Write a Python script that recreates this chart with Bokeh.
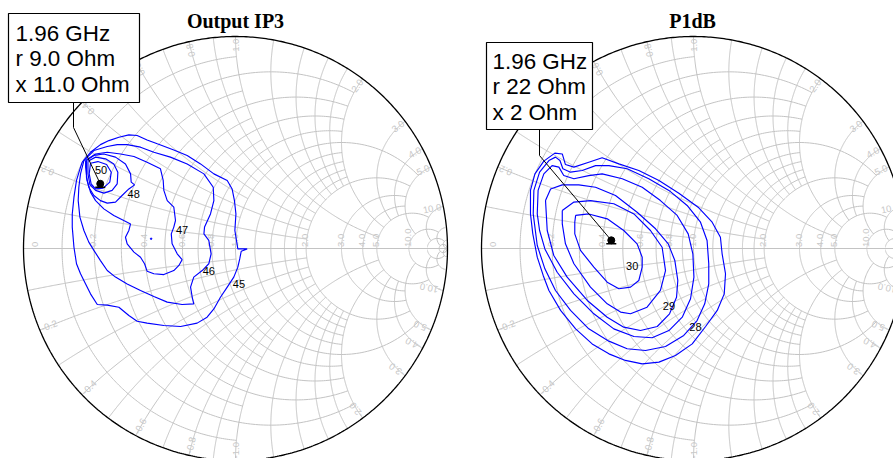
import numpy as np
from bokeh.plotting import figure
from bokeh.layouts import row
from bokeh.models import Range1d
from bokeh.embed import file_html
from bokeh.resources import INLINE
from bokeh.core.properties import value

# ---------------- data ----------------
Z0 = 50.0
FREQ_TEXT = "1.96 GHz"

# optimum impedances (Ohm)
ip3_opt_r, ip3_opt_x = 9.0, 11.0
p1db_opt_r, p1db_opt_x = 22.0, 2.0
ip3_box_text = [FREQ_TEXT, "r 9.0 Ohm", "x 11.0 Ohm"]
p1db_box_text = [FREQ_TEXT, "r 22 Ohm", "x 2 Ohm"]

# Output IP3 contours, reflection coefficient (real, imag)
ip3_c45 = [(-0.723,0.407),(-0.684,0.454),(-0.637,0.490),(-0.597,0.509),(-0.550,0.525),(-0.503,0.536),
           (-0.464,0.533),(-0.417,0.512),(-0.369,0.494),(-0.291,0.465),(-0.228,0.439),(-0.165,0.399),
           (-0.102,0.352),(-0.039,0.321),(-0.016,0.281),(-0.005,0.226),(0.002,0.163),(-0.003,0.085),
           (0.011,-0.002),(0.055,-0.002),(0.027,-0.013),(0.020,-0.049),(0.011,-0.088),(-0.008,-0.135),
           (-0.039,-0.182),(-0.071,-0.230),(-0.102,-0.285),(-0.134,-0.324),(-0.181,-0.352),(-0.259,-0.368),
           (-0.338,-0.363),(-0.417,-0.352),(-0.464,-0.343),(-0.503,-0.316),(-0.550,-0.277),(-0.605,-0.267),
           (-0.652,-0.264),(-0.684,-0.214),(-0.707,-0.167),(-0.731,-0.119),(-0.750,-0.072),(-0.762,0.006),
           (-0.770,0.101),(-0.770,0.163),(-0.762,0.242),(-0.750,0.321),(-0.731,0.384),(-0.723,0.407)]
ip3_c46 = [(-0.715,0.415),(-0.668,0.462),(-0.605,0.481),(-0.558,0.490),(-0.511,0.490),(-0.448,0.478),
           (-0.385,0.454),(-0.307,0.431),(-0.228,0.399),(-0.149,0.352),(-0.105,0.289),(-0.102,0.226),
           (-0.118,0.163),(-0.146,0.101),(-0.149,0.069),(-0.126,0.038),(-0.115,-0.025),(-0.126,-0.072),
           (-0.157,-0.104),(-0.197,-0.135),(-0.212,-0.182),(-0.204,-0.230),(-0.197,-0.261),(-0.252,-0.264),
           (-0.322,-0.253),(-0.385,-0.226),(-0.448,-0.198),(-0.511,-0.167),(-0.566,-0.135),(-0.605,-0.104),
           (-0.637,-0.057),(-0.668,-0.009),(-0.692,0.030),(-0.715,0.085),(-0.734,0.148),(-0.742,0.226),
           (-0.739,0.289),(-0.731,0.352),(-0.715,0.415)]
ip3_c47 = [(-0.707,0.415),(-0.660,0.446),(-0.605,0.454),(-0.542,0.446),(-0.479,0.434),(-0.417,0.407),
           (-0.354,0.376),(-0.341,0.321),(-0.338,0.274),(-0.322,0.226),(-0.291,0.195),(-0.283,0.132),
           (-0.291,0.101),(-0.303,0.069),(-0.299,0.022),(-0.275,-0.025),(-0.252,-0.053),(-0.267,-0.080),
           (-0.291,-0.104),(-0.338,-0.123),(-0.385,-0.119),(-0.417,-0.107),(-0.429,-0.072),(-0.448,-0.041),
           (-0.479,-0.017),(-0.511,0.022),(-0.519,0.053),(-0.503,0.085),(-0.495,0.116),(-0.527,0.132),
           (-0.574,0.156),(-0.621,0.187),(-0.660,0.226),(-0.684,0.266),(-0.700,0.321),(-0.707,0.384),
           (-0.707,0.415)]
ip3_c48 = [(-0.703,0.415),(-0.668,0.439),(-0.621,0.446),(-0.566,0.431),(-0.519,0.399),(-0.495,0.352),
           (-0.492,0.313),(-0.476,0.300),(-0.503,0.281),(-0.535,0.250),(-0.566,0.219),(-0.605,0.214),
           (-0.637,0.226),(-0.668,0.250),(-0.692,0.289),(-0.703,0.336),(-0.703,0.384),(-0.703,0.415)]
ip3_c49 = [(-0.696,0.412),(-0.660,0.431),(-0.613,0.423),(-0.574,0.399),(-0.555,0.360),(-0.558,0.305),
           (-0.582,0.274),(-0.621,0.261),(-0.660,0.274),(-0.687,0.302),(-0.696,0.352),(-0.696,0.412)]
ip3_c50 = [(-0.684,0.402),(-0.649,0.410),(-0.608,0.396),(-0.586,0.360),(-0.593,0.313),(-0.624,0.285),
           (-0.660,0.281),(-0.681,0.305),(-0.690,0.352),(-0.684,0.402)]
ip3_stray = [(-0.398, 0.046)]
ip3_levels = ["45", "46", "47", "48", "50"]
ip3_label_pos = [(0.016,-0.167),(-0.126,-0.108),(-0.252,0.085),(-0.480,0.255),(-0.634,0.368)]

# P1dB contours, reflection coefficient (real, imag)
p1_c1 = [(-0.556,0.156),(-0.494,0.163),(-0.407,0.140),(-0.329,0.085),(-0.266,0.022),(-0.242,-0.041),
         (-0.242,-0.088),(-0.258,-0.151),(-0.297,-0.182),(-0.352,-0.190),(-0.407,-0.159),(-0.470,-0.088),
         (-0.533,-0.009),(-0.560,0.069),(-0.560,0.124),(-0.556,0.156)]
p1_c2 = [(-0.619,0.179),(-0.564,0.219),(-0.486,0.226),(-0.376,0.211),(-0.281,0.163),(-0.203,0.085),
         (-0.148,0.006),(-0.132,-0.104),(-0.156,-0.198),(-0.219,-0.277),(-0.297,-0.308),(-0.344,-0.300),
         (-0.407,-0.261),(-0.486,-0.182),(-0.564,-0.072),(-0.604,0.022),(-0.619,0.116),(-0.619,0.179)]
p1_c3 = [(-0.698,0.226),(-0.674,0.281),(-0.619,0.300),(-0.541,0.300),(-0.462,0.289),(-0.368,0.250),
         (-0.266,0.171),(-0.179,0.093),(-0.119,0.022),(-0.088,-0.057),(-0.074,-0.151),(-0.080,-0.230),
         (-0.113,-0.308),(-0.171,-0.368),(-0.250,-0.387),(-0.329,-0.371),(-0.407,-0.324),(-0.501,-0.245),
         (-0.596,-0.135),(-0.659,-0.033),(-0.690,0.085),(-0.698,0.226)]
p1_c4 = [(-0.737,0.163),(-0.733,0.274),(-0.706,0.352),(-0.667,0.391),(-0.635,0.384),(-0.612,0.344),
         (-0.564,0.329),(-0.494,0.344),(-0.431,0.352),(-0.336,0.329),(-0.242,0.289),(-0.156,0.226),
         (-0.077,0.156),(-0.025,0.069),(-0.003,-0.025),(0.002,-0.135),(-0.014,-0.237),(-0.053,-0.324),
         (-0.116,-0.387),(-0.195,-0.421),(-0.281,-0.415),(-0.376,-0.379),(-0.470,-0.308),(-0.564,-0.214),
         (-0.643,-0.112),(-0.701,-0.002),(-0.726,0.085),(-0.737,0.163)]
p1_c5 = [(-0.756,0.163),(-0.753,0.274),(-0.726,0.360),(-0.682,0.415),(-0.651,0.431),(-0.630,0.415),
         (-0.616,0.376),(-0.580,0.360),(-0.525,0.368),(-0.462,0.391),(-0.399,0.391),(-0.313,0.376),
         (-0.211,0.329),(-0.116,0.274),(-0.030,0.203),(0.033,0.124),(0.064,0.038),(0.072,-0.072),
         (0.072,-0.167),(0.053,-0.261),(0.017,-0.340),(-0.046,-0.410),(-0.132,-0.462),(-0.226,-0.481),
         (-0.313,-0.473),(-0.399,-0.437),(-0.494,-0.379),(-0.580,-0.292),(-0.651,-0.198),(-0.701,-0.096),
         (-0.737,0.014),(-0.756,0.163)]
p1_c6 = [(-0.769,0.163),(-0.769,0.274),(-0.748,0.352),(-0.706,0.412),(-0.654,0.450),(-0.619,0.446),
         (-0.604,0.396),(-0.564,0.384),(-0.494,0.407),(-0.431,0.428),(-0.352,0.399),(-0.258,0.368),
         (-0.163,0.321),(-0.069,0.261),(0.025,0.192),(0.088,0.124),(0.127,0.053),(0.135,-0.025),
         (0.151,-0.119),(0.145,-0.214),(0.112,-0.292),(0.057,-0.368),(-0.006,-0.450),(-0.085,-0.505),
         (-0.163,-0.536),(-0.242,-0.544),(-0.321,-0.528),(-0.399,-0.497),(-0.478,-0.450),(-0.556,-0.379),
         (-0.627,-0.292),(-0.682,-0.198),(-0.709,-0.127),(-0.737,-0.041),(-0.758,0.069),(-0.769,0.163)]
p1_levels = ["30", "29", "28"]
p1_label_pos = [(-0.289,-0.083),(-0.116,-0.269),(0.009,-0.371)]

# Smith chart grid: value and extent of each line
GRID_R = [(0.1,1),(0.3,1),(0.5,1),(0.7,1),(0.9,1),(0.2,2),(0.4,2),(0.6,2),(0.8,2),(1.0,5),
          (1.2,2),(1.4,2),(1.6,2),(1.8,2),(2.0,5),(3.0,5),(4.0,5),(5.0,10),(10.0,20),(20.0,50),(50.0,np.inf)]
GRID_X = [(0.1,1),(0.3,1),(0.5,1),(0.7,1),(0.9,1),(0.2,2),(0.4,2),(0.6,2),(0.8,2),(1.0,5),
          (1.2,2),(1.4,2),(1.6,2),(1.8,2),(2.0,5),(3.0,5),(4.0,5),(5.0,10),(10.0,20),(20.0,50),(50.0,np.inf)]
AXIS_LABELS = [0.2, 0.4, 0.6, 0.8, 1.0, 2.0, 3.0, 4.0, 5.0, 10.0]
RIM_LABELS = [0.2, 0.4, 0.6, 0.8, 1.0, 2.0, 3.0, 4.0, 5.0, 10.0]

# ---------------- helpers ----------------
PX = 212.0          # pixels per unit reflection coefficient
W_TOTAL = 893
H = 458
CY = 248            # chart centre, pixels from top
GRID_COL = "#c3c3c3"
LABEL_COL = "#c8c8c8"
BLUE = "#0000ff"


def gamma(z):
    return (z - 1) / (z + 1)


def tlim(v):
    return np.arctan(v) if np.isfinite(v) else np.pi / 2 * 0.99999


def draw_smith(p):
    xs, ys = [], []
    for r, xmax in GRID_R:
        t = np.linspace(-tlim(xmax), tlim(xmax), 300)
        g = gamma(r + 1j * np.tan(t))
        xs.append(g.real); ys.append(g.imag)
    for x, rmax in GRID_X:
        t = np.linspace(0, tlim(rmax), 250)
        for s in (1, -1):
            g = gamma(np.tan(t) + 1j * s * x)
            xs.append(g.real); ys.append(g.imag)
    p.multi_line(xs, ys, line_color=GRID_COL, line_width=1)
    p.line([-1, 1], [0, 0], line_color=GRID_COL, line_width=1)
    th = np.linspace(0, 2 * np.pi, 600)
    p.line(np.cos(th), np.sin(th), line_color="black", line_width=1.3)

    # resistance labels along real axis
    lx = [gamma(r).real - 1.0 / PX for r in AXIS_LABELS] + [-1 + 11.5 / PX]
    lt = ["%.1f" % r for r in AXIS_LABELS] + ["0"]
    p.text(lx, [1.5 / PX] * len(lx), text=lt, angle=np.pi / 2, text_align="left",
           text_baseline="alphabetic", text_font=value("Liberation Sans"),
           text_font_size="9.5px", text_color=LABEL_COL)
    # reactance labels around the rim
    px_, py_, pa, pt = [], [], [], []
    nx_, ny_, na, nt = [], [], [], []
    for x in RIM_LABELS:
        th0 = np.pi - 2 * np.arctan(x)
        px_.append(0.99 * np.cos(th0)); py_.append(0.99 * np.sin(th0)); pa.append(th0); pt.append("%.1f" % x)
        nx_.append(0.99 * np.cos(-th0)); ny_.append(0.99 * np.sin(-th0)); na.append(np.pi - th0); nt.append("-%.1f" % x)
    p.text(px_, py_, text=pt, angle=pa, text_align="right", text_baseline="alphabetic",
           text_font=value("Liberation Sans"), text_font_size="9.5px", text_color=LABEL_COL)
    p.text(nx_, ny_, text=nt, angle=na, text_align="left", text_baseline="alphabetic",
           text_font=value("Liberation Sans"), text_font_size="9.5px", text_color=LABEL_COL)


def draw_contours(p, contours, levels, label_pos):
    for c in contours:
        p.line([q[0] for q in c], [q[1] for q in c], line_color=BLUE, line_width=1.15)
    p.text([q[0] for q in label_pos], [q[1] for q in label_pos], text=levels,
           text_align="center", text_baseline="middle", text_font=value("Liberation Sans"),
           text_font_size="11px", text_color="black")


def draw_marker(p, r_ohm, x_ohm, box, text_lines, text_x, text_ys, bend):
    g = gamma((r_ohm + 1j * x_ohm) / Z0)
    p.line([bend[0], bend[0], g.real], [box[3], bend[1], g.imag], line_color="black", line_width=1)
    p.scatter([g.real], [g.imag], marker="circle", size=7, fill_color="black", line_color="black")
    p.scatter([g.real], [g.imag - 3.5 / PX], marker="dash", size=10, line_color="black", line_width=1.5)
    p.quad(left=[box[0]], right=[box[1]], top=[box[2]], bottom=[box[3]], fill_color="white",
           line_color="black", line_width=1.2)
    p.text([text_x] * 3, text_ys, text=text_lines, text_align="left", text_baseline="middle",
           text_font=value("Liberation Sans"), text_font_size="22.4px", text_color="black")


def make_fig(width, cx_local):
    x0 = -cx_local / PX
    x1 = (width - cx_local) / PX
    p = figure(width=width, height=H, x_range=Range1d(x0, x1),
               y_range=Range1d(-(H - CY) / PX, CY / PX),
               output_backend="svg", toolbar_location=None, min_border=0,
               x_axis_location=None, y_axis_location=None)
    p.grid.visible = False
    p.outline_line_color = None
    p.background_fill_color = "white"
    p.border_fill_color = "white"
    return p


def loc(ix, iy, cx):
    """picture pixel -> chart units for a chart centred at picture x cx, y CY"""
    return (ix - cx) / PX, (CY - iy) / PX


# ---------------- left chart ----------------
LW = 464
p1 = make_fig(LW, 235)
draw_smith(p1)
draw_contours(p1, [ip3_c45, ip3_c46, ip3_c47, ip3_c48, ip3_c49, ip3_c50], ip3_levels, ip3_label_pos)
p1.scatter([q[0] for q in ip3_stray], [q[1] for q in ip3_stray], marker="circle", size=1.5,
           fill_color=BLUE, line_color=BLUE)
bl, bt = loc(8, 13, 235)
br, bb = loc(139, 102, 235)
bx, by = loc(73, 127, 235)
tx, _ = loc(15, 0, 235)
tys = [loc(0, y, 235)[1] for y in (32.5, 58, 83.5)]
draw_marker(p1, ip3_opt_r, ip3_opt_x, (bl, br, bt, bb), ip3_box_text, tx, tys, (bx, by))
ttx, tty = loc(235, 20, 235)
p1.text([ttx], [tty], text=["Output IP3"], text_align="center", text_baseline="middle",
        text_font=value("Liberation Serif"), text_font_style="bold", text_font_size="20px",
        text_color="black")

# ---------------- right chart ----------------
p2 = make_fig(W_TOTAL - LW, 693 - LW)
draw_smith(p2)
draw_contours(p2, [p1_c1, p1_c2, p1_c3, p1_c4, p1_c5, p1_c6], p1_levels, p1_label_pos)
bl, bt = loc(486, 42, 693)
br, bb = loc(592, 129, 693)
bx, by = loc(539, 155, 693)
tx, _ = loc(492, 0, 693)
tys = [loc(0, y, 693)[1] for y in (60.5, 86, 111.5)]
draw_marker(p2, p1db_opt_r, p1db_opt_x, (bl, br, bt, bb), p1db_box_text, tx, tys, (bx, by))
ttx, tty = loc(692, 20, 693)
p2.text([ttx], [tty], text=["P1dB"], text_align="center", text_baseline="middle",
        text_font=value("Liberation Serif"), text_font_style="bold", text_font_size="20px",
        text_color="black")

layout = row(p1, p2)
open("out.html", "w").write(file_html(layout, INLINE))
